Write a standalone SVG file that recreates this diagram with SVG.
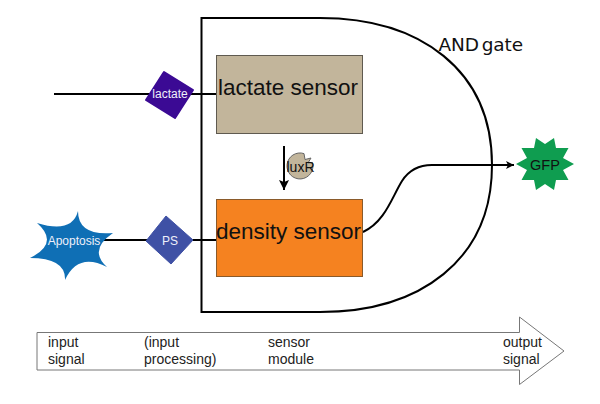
<svg xmlns="http://www.w3.org/2000/svg" width="600" height="404" viewBox="0 0 600 404">
<style>
text{font-family:"Liberation Sans",Arial,sans-serif}
.ln{fill:none;stroke:#000;stroke-width:2}
.w{fill:#eef0fa;font-size:12px;text-anchor:middle}
.s{font-size:22.500px;fill:#111;text-anchor:middle}
.p{font-size:14px;fill:#222}
</style>
<defs>
<marker id="ah" markerWidth="10" markerHeight="10" refX="8" refY="4" orient="auto" markerUnits="userSpaceOnUse"><path d="M0,0L8,4L0,8L2,4Z" fill="#000"/></marker>
<marker id="ah2" markerWidth="12" markerHeight="12" refX="10" refY="5" orient="auto" markerUnits="userSpaceOnUse"><path d="M0,0L10,5L0,10L2,5Z" fill="#000"/></marker>
</defs>
<rect width="600" height="404" fill="#fff"/>
<g id="flow-arrow"><path d="M37,332.500H519.500V317L564,351L519.500,384.500V370H37Z" fill="#fff" stroke="#777" stroke-width="1"/>
<text class="p" x="48" y="347">input</text><text class="p" x="48" y="364">signal</text>
<text class="p" x="144" y="347">(input</text><text class="p" x="144" y="364">processing)</text>
<text class="p" x="268" y="347">sensor</text><text class="p" x="268" y="364">module</text>
<text class="p" x="503" y="347">output</text><text class="p" x="503" y="364">signal</text></g>
<g id="and-gate"><path d="M201.500,18H320C420,18 492,70 492,165C492,260 420,312 320,312H201.500Z" fill="#fff" stroke="#000" stroke-width="2"/>
<text x="438.500" y="51" font-size="18.500" fill="#111" style="font-family:'DejaVu Sans',sans-serif;word-spacing:-3px;letter-spacing:-0.1px">AND gate</text></g>
<g id="connectors">
<path class="ln" d="M54,94H217"/>
<path class="ln" d="M100,240H217"/>
<path class="ln" d="M363,232C385,222 392,197 402,181C409,170 418,165 432,165H514" marker-end="url(#ah)"/>
<path class="ln" d="M284,146V190" marker-end="url(#ah2)"/>
</g>
<g id="lactate-sensor"><rect x="216.500" y="55.500" width="146" height="78" fill="#c2b59b" stroke="#5f5a50"/><text class="s" x="288" y="95">lactate sensor</text></g>
<g id="density-sensor"><rect x="216.500" y="199.500" width="146" height="77" fill="#f58220" stroke="#8a5a2a"/><text class="s" x="288.500" y="239">density sensor</text></g>
<g id="lactate"><path d="M164,72L193,90L175,118L146,100Z" fill="#3b0a94" stroke="#3b0a94" stroke-width="2" stroke-linejoin="round"/><text class="w" x="170" y="98" font-size="11.500">lactate</text></g>
<g id="ps"><path d="M166,216L193,240L171,264L146,241Z" fill="#3f51a5" stroke="#3f51a5" stroke-linejoin="round"/><text class="w" x="170" y="245">PS</text></g>
<g id="apoptosis"><path d="M78,211Q72,234 37,223Q60,243 30,258Q66,258 65,280Q78,252 107,267Q88,250 113,233Q78,236 78,211Z" fill="#0f6fb5"/><text class="w" x="74" y="245">Apoptosis</text></g>
<g id="luxr"><path d="M304,153.600A13,13 0 1 0 312.500,162.500L308,163L311,158L305,159.500Z" fill="#c2b59b" stroke="#666" stroke-width="1"/><text x="300.500" y="172" font-size="14" text-anchor="middle" fill="#111">luxR</text></g>
<g id="gfp"><path d="M516,164L527,158L521.500,148L534,148L536,138L545,144L554,138L556,148L568.500,148L563,158L574,164L563,170L568.500,180L556,180L554,190L545,184L536,190L534,180L521.500,180L527,170Z" fill="#0f9d50"/><text x="545" y="170" font-size="14.500" text-anchor="middle" fill="#111">GFP</text></g>
</svg>
